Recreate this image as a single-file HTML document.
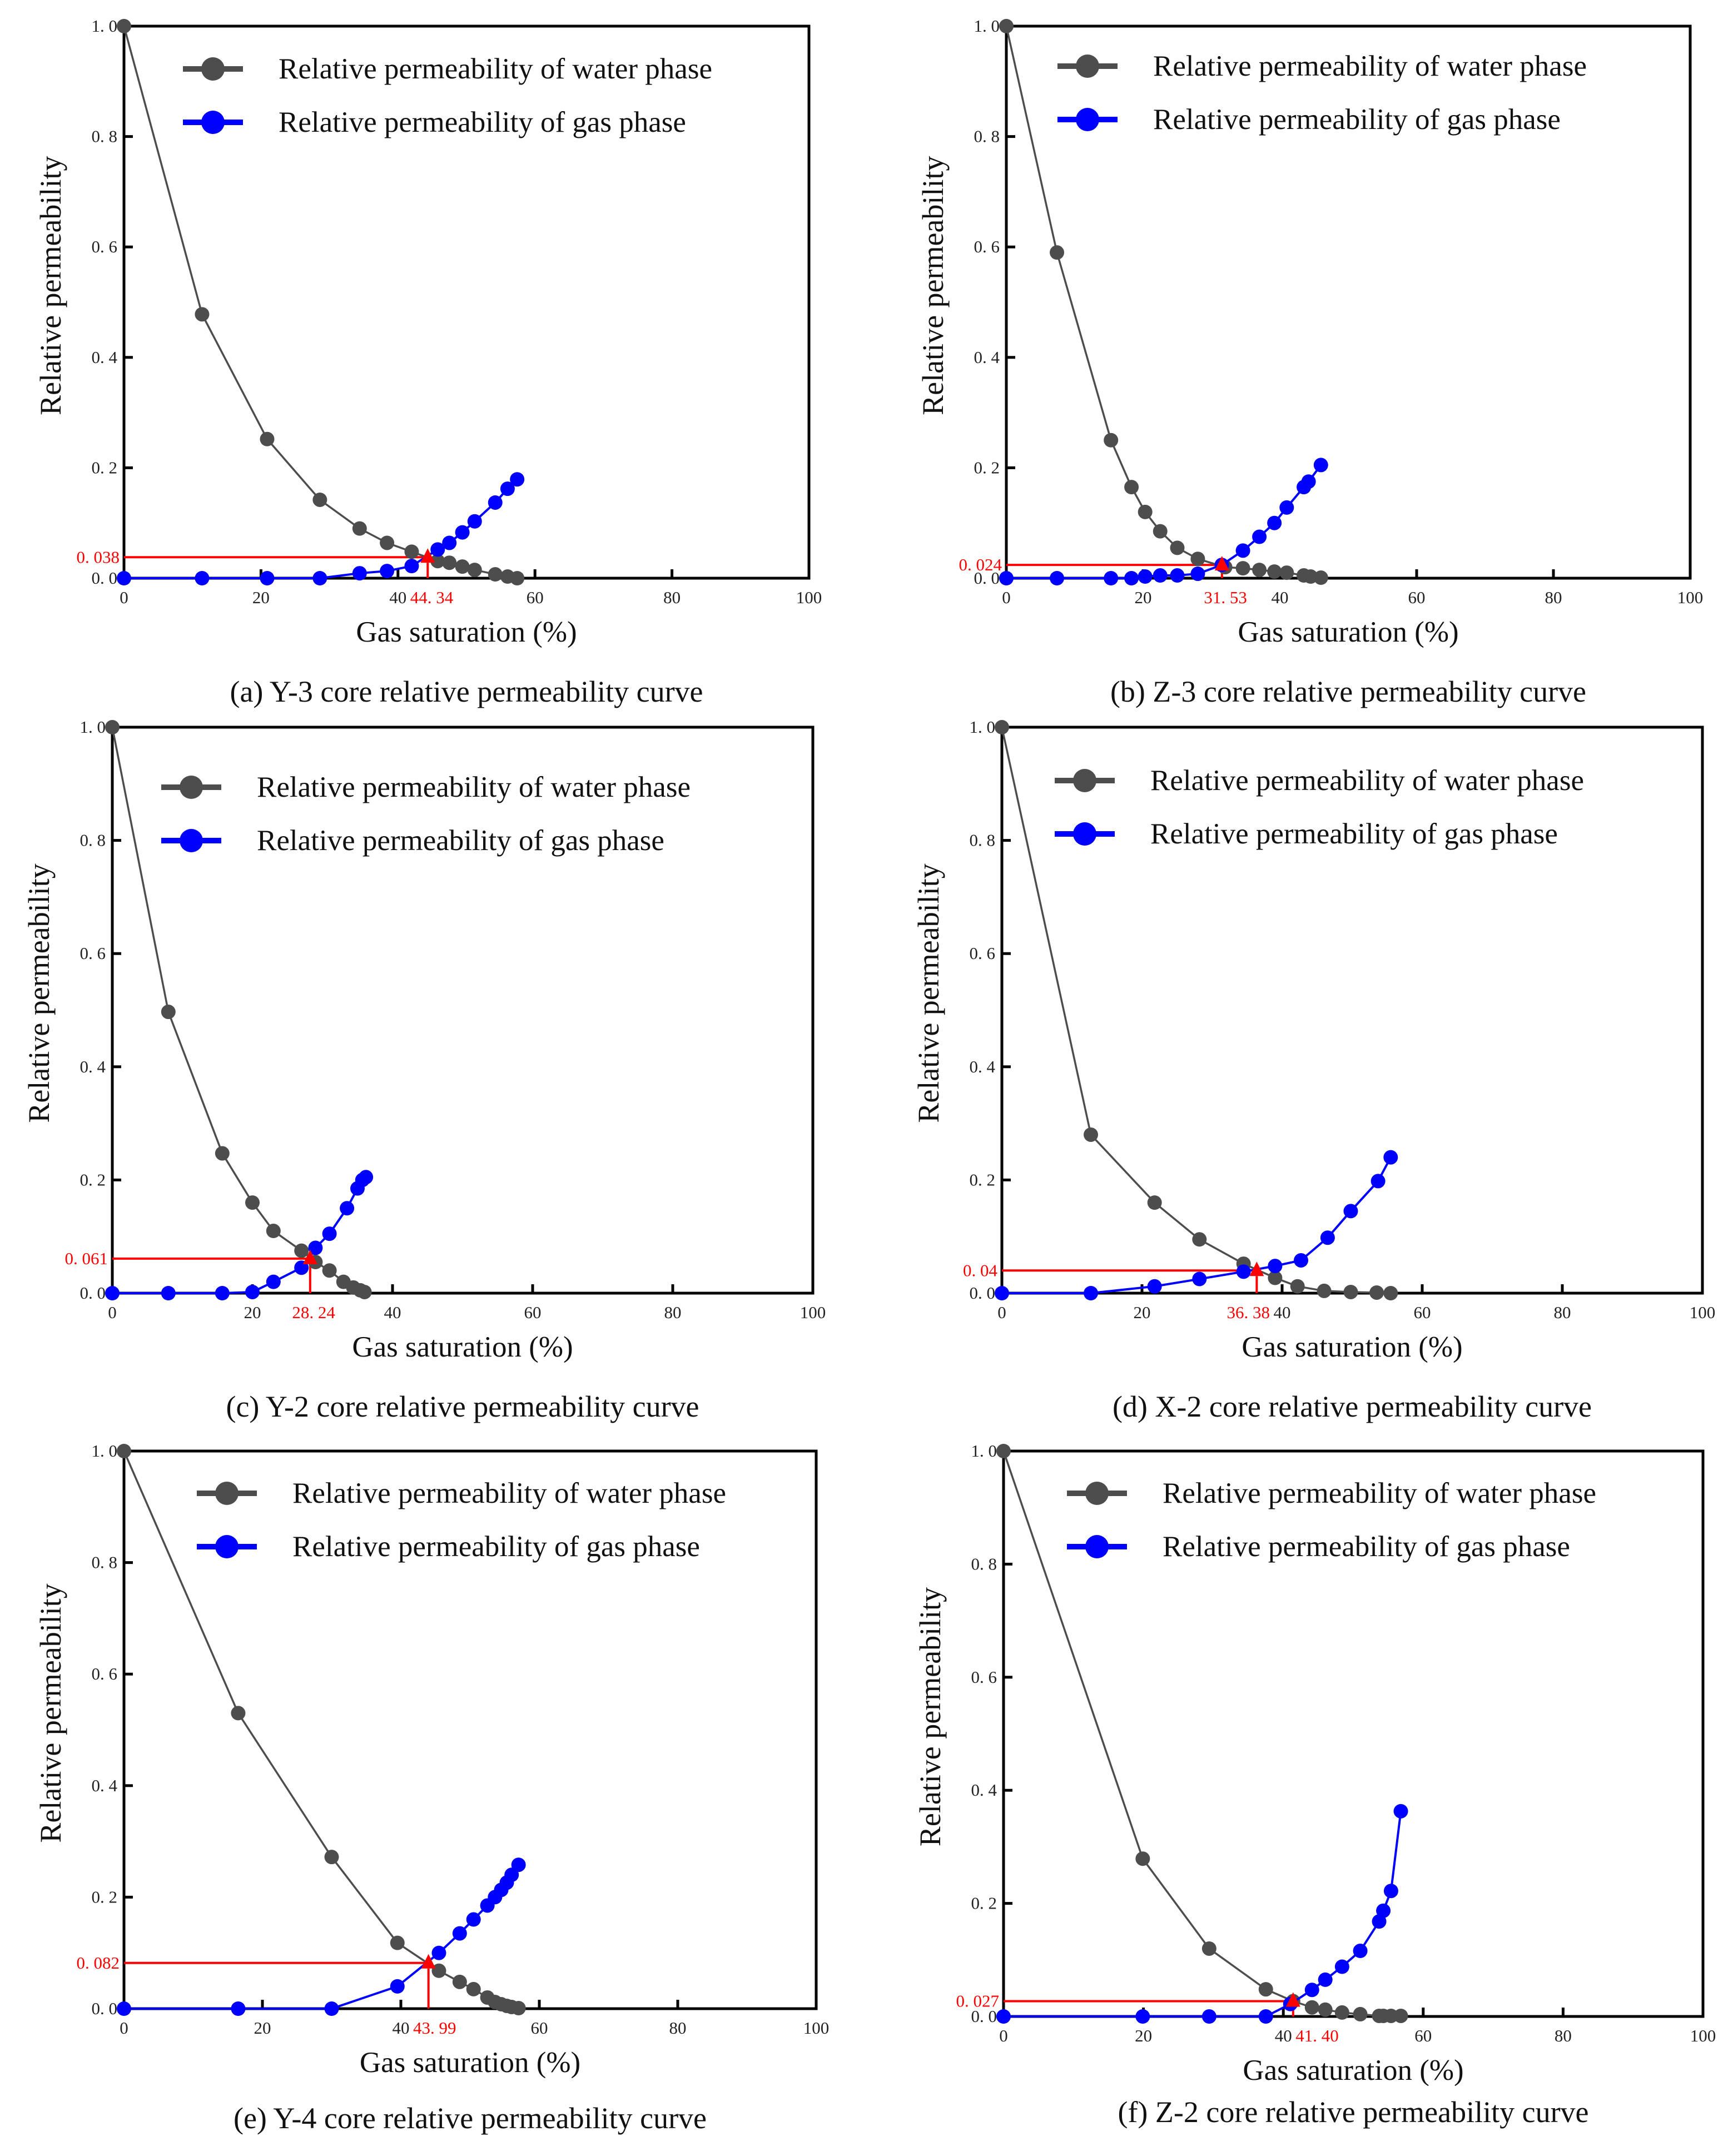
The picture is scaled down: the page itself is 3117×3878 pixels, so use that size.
<!DOCTYPE html>
<html><head><meta charset="utf-8">
<style>
html,body{margin:0;padding:0;background:#fff;}
svg{display:block;}
text{font-family:"Liberation Serif","Noto Serif CJK SC",serif;}
</style></head>
<body>
<svg id="chart" xmlns="http://www.w3.org/2000/svg" width="3117" height="3878" viewBox="0 0 3117 3878"></svg>
<script>
// ---- data ----
const panelIds = ["a","b","c","d","e","f"];
const captions = ["(a) Y-3 core relative permeability curve","(b) Z-3 core relative permeability curve","(c) Y-2 core relative permeability curve","(d) X-2 core relative permeability curve","(e) Y-4 core relative permeability curve","(f) Z-2 core relative permeability curve"];
const xTicks = [0,20,40,60,80,100];
const yTicks = [0,0.2,0.4,0.6,0.8,1.0];
const yTickLabels = ["0. 0","0. 2","0. 4","0. 6","0. 8","1. 0"];

const waterX_a = [0,11.4,20.9,28.6,34.4,38.4,42.0,45.8,47.5,49.4,51.2,54.2,56.0,57.4];
const waterY_a = [1,0.478,0.252,0.142,0.09,0.064,0.048,0.031,0.028,0.021,0.015,0.007,0.003,0.0];
const gasX_a = [0,11.4,20.9,28.6,34.4,38.4,42.0,45.8,47.5,49.4,51.2,54.2,56.0,57.4];
const gasY_a = [0,0,0,0,0.009,0.013,0.022,0.052,0.064,0.083,0.103,0.137,0.162,0.179];

const waterX_b = [0,7.4,15.3,18.3,20.3,22.5,25,28,32,34.6,37,39.2,41,43.5,44.5,46];
const waterY_b = [1,0.59,0.25,0.165,0.12,0.085,0.055,0.035,0.02,0.018,0.015,0.012,0.01,0.005,0.003,0.001];
const gasX_b = [0,7.4,15.3,18.3,20.3,22.5,25,28,31.5,34.6,37,39.2,41,43.5,44.2,46];
const gasY_b = [0,0,0,0,0.003,0.005,0.005,0.008,0.024,0.05,0.075,0.1,0.128,0.165,0.175,0.205];

const waterX_c = [0,8,15.7,20,23,27,29,31,33,34.4,35.4,36];
const waterY_c = [1,0.497,0.247,0.16,0.11,0.075,0.055,0.04,0.02,0.01,0.005,0.002];
const gasX_c = [0,8,15.7,20,23,27,29,31,33.5,35,35.7,36.2];
const gasY_c = [0,0,0,0.002,0.02,0.045,0.08,0.105,0.15,0.185,0.2,0.205];

const waterX_d = [0,12.7,21.8,28.2,34.5,39,42.2,46,49.8,53.5,55.5];
const waterY_d = [1,0.28,0.16,0.095,0.052,0.027,0.012,0.004,0.002,0.001,0];
const gasX_d = [0,12.7,21.8,28.2,34.5,39,42.7,46.5,49.8,53.7,55.5];
const gasY_d = [0,0,0.012,0.025,0.038,0.048,0.058,0.098,0.145,0.198,0.24];

const waterX_e = [0,16.5,30,39.5,45.5,48.5,50.5,52.5,53.6,54.5,55.3,56,57];
const waterY_e = [1,0.53,0.272,0.118,0.068,0.048,0.035,0.02,0.012,0.008,0.005,0.003,0.001];
const gasX_e = [0,16.5,30,39.5,45.5,48.5,50.5,52.5,53.6,54.5,55.3,56,57];
const gasY_e = [0,0,0,0.04,0.1,0.135,0.16,0.185,0.2,0.213,0.226,0.24,0.258];

const waterX_f = [0,19.9,29.4,37.5,41.4,44.1,46,48.4,51,53.7,54.3,55.4,56.8];
const waterY_f = [1,0.279,0.12,0.048,0.027,0.016,0.012,0.007,0.004,0.001,0.001,0.001,0.001];
const gasX_f = [0,19.9,29.4,37.5,41.0,44.1,46,48.4,51,53.7,54.3,55.4,56.8];
const gasY_f = [0,0,0,0,0.022,0.047,0.065,0.088,0.116,0.168,0.187,0.222,0.363];

const crossX = [44.34,31.53,28.24,36.38,43.99,41.40];
const crossY = [0.038,0.024,0.061,0.04,0.082,0.027];
const crossXLabels = ["44. 34","31. 53","28. 24","36. 38","43. 99","41. 40"];
const crossYLabels = ["0. 038","0. 024","0. 061","0. 04","0. 082","0. 027"];

const waterXs=[waterX_a,waterX_b,waterX_c,waterX_d,waterX_e,waterX_f];
const waterYs=[waterY_a,waterY_b,waterY_c,waterY_d,waterY_e,waterY_f];
const gasXs=[gasX_a,gasX_b,gasX_c,gasX_d,gasX_e,gasX_f];
const gasYs=[gasY_a,gasY_b,gasY_c,gasY_d,gasY_e,gasY_f];

// ---- layout (pixel geometry, not data) ----
const frames=[
 {l:223,t:47,r:1455,b:1040,lx:106,ly:77,cap:222},
 {l:1810,t:47,r:3040,b:1040,lx:92,ly:72,cap:222},
 {l:202,t:1308,r:1462,b:2326,lx:88,ly:108,cap:222},
 {l:1802,t:1308,r:3062,b:2326,lx:95,ly:96,cap:222},
 {l:223,t:2610,r:1468,b:3613,lx:131,ly:76,cap:215},
 {l:1805,t:2610,r:3063,b:3627,lx:114,ly:76,cap:190}
];
const NS="http://www.w3.org/2000/svg";
const svg=document.getElementById("chart");
function mk(tag,attrs,parent,txt){const e=document.createElementNS(NS,tag);for(const k in attrs)e.setAttribute(k,attrs[k]);if(txt!==undefined)e.textContent=txt;(parent||svg).appendChild(e);return e;}

frames.forEach((f,i)=>{
 const g=mk("g",{});
 
 
 const sx=v=>f.l+(f.r-f.l)*v/100;
 const sy=v=>f.b-(f.b-f.t)*v;
 const fr=mk("rect",{x:f.l,y:f.t,width:f.r-f.l,height:f.b-f.t,fill:"none",stroke:"#000","stroke-width":5},g);
 
 
 xTicks.forEach(v=>{
  if(v>0&&v<100){const tk=mk("line",{x1:sx(v),x2:sx(v),y1:f.b,y2:f.b-16,stroke:"#000","stroke-width":5},g);
   
   }
  const tl=mk("text",{x:sx(v),y:f.b+45,"font-size":31,"text-anchor":"middle",fill:"#222"},g,String(v));
  
  
 });
 yTicks.forEach((v,k)=>{
  if(v>0&&v<1){const tk=mk("line",{x1:f.l,x2:f.l+16,y1:sy(v),y2:sy(v),stroke:"#000","stroke-width":5},g);
   
   }
  const tl=mk("text",{x:f.l-12,y:sy(v)+10,"font-size":31,"text-anchor":"end",fill:"#222"},g,yTickLabels[k]);
  
  
 });
 const xt=mk("text",{x:(f.l+f.r)/2,y:f.b+114,"font-size":53,"text-anchor":"middle",fill:"#111"},g,"Gas saturation (%)");
 
 
 const yc=f.t+(f.b-f.t)*0.47;
 const yt=mk("text",{x:f.l-114,y:yc,"font-size":54,"text-anchor":"middle",fill:"#111",transform:`rotate(-90 ${f.l-114} ${yc})`},g,"Relative permeability");
 
 
 const cp=mk("text",{x:(f.l+f.r)/2,y:f.b+f.cap,"font-size":54,"text-anchor":"middle",fill:"#111"},g,captions[i]);
 
 
 const cx=sx(crossX[i]),cy=sy(crossY[i]);
 const ah=mk("line",{x1:f.l,x2:cx,y1:cy,y2:cy,stroke:"#f00","stroke-width":4},g);
 
 
 const av=mk("line",{x1:cx,x2:cx,y1:f.b,y2:cy+10,stroke:"#f00","stroke-width":4},g);
 
 
 const cyl=mk("text",{x:f.l-8,y:cy+10,"font-size":31,"text-anchor":"end",fill:"#f00"},g,crossYLabels[i]);
 
 
 const s40=sx(40), halfW=45;
 let lx, anchor;
 if(cx>=s40){lx=Math.max(cx-halfW,s40+22);anchor="start";}
 else{lx=Math.min(cx+halfW,s40-22);anchor="end";}
 const cxl=mk("text",{x:lx,y:f.b+45,"font-size":31,"text-anchor":anchor,fill:"#f00"},g,crossXLabels[i]);
 
 
 const series=[[waterXs[i],waterYs[i],"#4d4d4d","water"],[gasXs[i],gasYs[i],"#0000ff","gas"]];
 series.forEach(s=>{
  const pts=s[0].map((x,k)=>sx(x)+","+sy(s[1][k])).join(" ");
  const pl=mk("polyline",{points:pts,fill:"none",stroke:s[2],"stroke-width":s[3]==="gas"?4:3.5},g);
  
  
  s[0].forEach((x,k)=>{
   const c=mk("circle",{cx:sx(x),cy:sy(s[1][k]),r:13,fill:s[2]},g);
   
   
  });
 });
 const tri=mk("polygon",{points:`${cx},${cy-16} ${cx-13},${cy+10} ${cx+13},${cy+10}`,fill:"#f00"},g);
 
 
 const leg=[["#4d4d4d","Relative permeability of water phase"],["#0000ff","Relative permeability of gas phase"]];
 leg.forEach((L,k)=>{
  const y=f.t+f.ly+k*96, x0=f.l+f.lx;
  const lg=mk("g",{},g);
  
  
  mk("line",{x1:x0,x2:x0+108,y1:y,y2:y,stroke:L[0],"stroke-width":10},lg);
  mk("circle",{cx:x0+54,cy:y,r:21,fill:L[0]},lg);
  mk("text",{x:x0+172,y:y+17,"font-size":53,fill:"#111"},lg,L[1]);
 });
});
</script>
</body></html>
